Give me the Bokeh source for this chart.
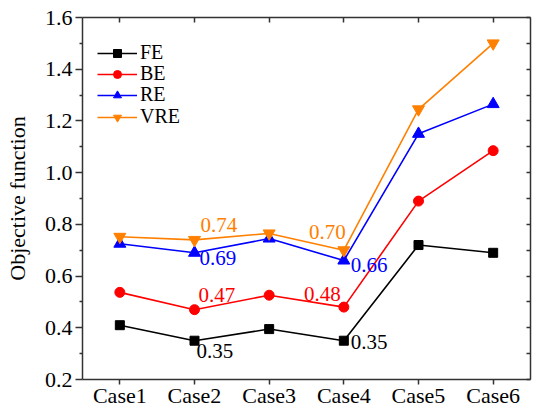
from bokeh.plotting import figure
from bokeh.models import (FactorRange, Range1d, FixedTicker, CategoricalAxis, LinearAxis,
                          PrintfTickFormatter, Legend, LegendItem, ColumnDataSource)
from bokeh.core.properties import value
from bokeh.embed import file_html
from bokeh.resources import INLINE

cases = ["Case1", "Case2", "Case3", "Case4", "Case5", "Case6"]
FE = [0.41, 0.35, 0.395, 0.35, 0.72, 0.69]
BE = [0.537, 0.47, 0.526, 0.48, 0.89, 1.085]
RE = [0.725, 0.69, 0.745, 0.66, 1.15, 1.265]
VRE = [0.752, 0.74, 0.765, 0.70, 1.245, 1.50]
y_ticks = [0.2, 0.4, 0.6, 0.8, 1.0, 1.2, 1.4, 1.6]
y_minor = [0.3, 0.5, 0.7, 0.9, 1.1, 1.3, 1.5]

FONT = "Liberation Serif"

p = figure(width=540, height=413, output_backend="svg", toolbar_location=None,
           x_range=FactorRange(factors=cases, range_padding=0),
           y_range=Range1d(0.2, 1.6),
           min_border_left=82, min_border_right=10, min_border_top=17, min_border_bottom=34)
p.outline_line_color = None
p.xgrid.visible = False
p.ygrid.visible = False
p.background_fill_color = "white"

# left axis
ya = p.yaxis[0]
ya.ticker = FixedTicker(ticks=y_ticks, minor_ticks=y_minor)
ya.formatter = PrintfTickFormatter(format="%.1f")
ya.major_tick_out = 7
ya.major_tick_in = 0
ya.minor_tick_out = 3
ya.minor_tick_in = 0
ya.axis_line_width = 1.5
ya.major_tick_line_width = 1.5
ya.minor_tick_line_width = 1.5
ya.axis_line_color = "#333333"
ya.major_tick_line_color = "#333333"
ya.minor_tick_line_color = "#333333"
ya.major_label_text_font = FONT
ya.major_label_text_font_size = "22px"
ya.major_label_text_color = "black"
ya.major_label_standoff = 3
ya.axis_label = "Objective function"
ya.axis_label_text_font = FONT
ya.axis_label_text_font_size = "22px"
ya.axis_label_text_font_style = "normal"
ya.axis_label_text_color = "black"
ya.axis_label_standoff = 12

# bottom axis
xa = p.xaxis[0]
xa.major_tick_out = 5
xa.major_tick_in = 0
xa.axis_line_width = 1.5
xa.major_tick_line_width = 1.5
xa.axis_line_color = "#333333"
xa.major_tick_line_color = "#333333"
xa.major_label_text_font = FONT
xa.major_label_text_font_size = "22px"
xa.major_label_text_color = "black"
xa.major_label_standoff = -2

# top axis (mirror, inward ticks, labels not painted)
top = CategoricalAxis(major_tick_in=5, major_tick_out=0, axis_line_width=1.5,
                      major_tick_line_width=1.5, axis_line_color="#333333",
                      major_tick_line_color="#333333",
                      major_label_text_color=None, major_label_standoff=0)
p.add_layout(top, "above")

# right axis (mirror, inward ticks every 0.1, no labels)
right_ticks = sorted(y_ticks + y_minor)
right = LinearAxis(ticker=FixedTicker(ticks=right_ticks),
                   major_tick_in=4, major_tick_out=0, minor_tick_in=0, minor_tick_out=0,
                   axis_line_width=1.5, major_tick_line_width=1.5,
                   axis_line_color="#333333", major_tick_line_color="#333333",
                   major_label_overrides={t: "" for t in right_ticks}, major_label_standoff=0)
p.add_layout(right, "right")

series = [
    ("FE", FE, "black", "square", 9),
    ("BE", BE, "#FF0000", "circle", 10),
    ("RE", RE, "#0000FF", "triangle", 12),
    ("VRE", VRE, "#FF8000", "inverted_triangle", 12),
]
# one single-item legend per series so the row pitch matches the reference
legend_y = [315, 294, 273, 251]
for (name, vals, color, marker, size), ly in zip(series, legend_y):
    src = ColumnDataSource(dict(x=cases, y=vals))
    ln = p.line("x", "y", source=src, line_color=color, line_width=1.6)
    mk = p.scatter("x", "y", source=src, marker=marker, size=size,
                   fill_color=color, line_color=color)
    lg = Legend(items=[LegendItem(label=name, renderers=[ln, mk])],
                location=(15, ly), margin=0, padding=0, spacing=0,
                border_line_color=None, background_fill_alpha=0,
                label_text_font=FONT, label_text_font_size="20px",
                label_text_color="black", glyph_width=40, glyph_height=20,
                label_height=20, label_standoff=3)
    p.add_layout(lg)

# value annotations: (series values, index, color, align, x_offset, y_offset)
annots = [
    (FE, 1, "black", "left", 2, 10),
    (BE, 1, "#FF0000", "left", 4, -15),
    (RE, 1, "#0000FF", "left", 5, 5),
    (VRE, 1, "#FF8000", "left", 6, -15),
    (VRE, 3, "#FF8000", "right", 2, -18),
    (RE, 3, "#0000FF", "left", 7, 4),
    (BE, 3, "#FF0000", "right", -3, -13),
    (FE, 3, "black", "left", 7, 1),
]
for vals, i, color, align, xo, yo in annots:
    p.text(x=[cases[i]], y=[vals[i]], text=[f"{vals[i]:.2f}"],
           text_font=value(FONT), text_font_size="21px", text_color=color,
           text_align=align, text_baseline="alphabetic", x_offset=xo, y_offset=yo)

open("out.html", "w").write(file_html(p, INLINE))
